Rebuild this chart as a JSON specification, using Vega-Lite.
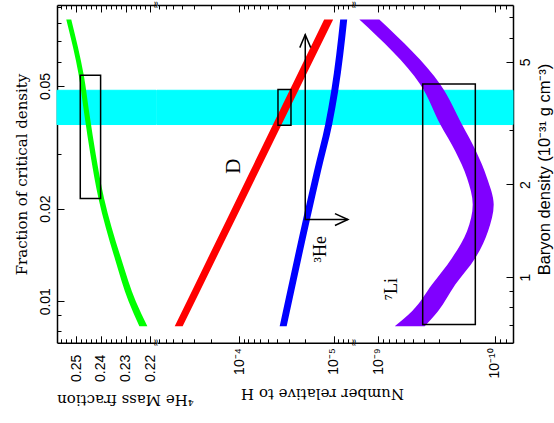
{
  "$schema": "https://vega.github.io/schema/vega-lite/v6.json",
  "background": "white",
  "padding": {"left": 14, "top": 0, "right": 0, "bottom": 0},
  "spacing": 0,
  "bounds": "flush",
  "datasets": {
    "band": [{"omega_hi": 0.04842, "omega_lo": 0.03748, "rho_hi": 4.045, "rho_lo": 3.131}],
    "edges": [{"omega": 0.0916}, {"omega": 0.00733}],
    "he": [
      {"omega": 0.08215, "Y_lo": 0.25203, "Y_hi": 0.25405},
      {"omega": 0.05418, "Y_lo": 0.24696, "Y_hi": 0.24899},
      {"omega": 0.04008, "Y_lo": 0.24457, "Y_hi": 0.24668},
      {"omega": 0.02995, "Y_lo": 0.24210, "Y_hi": 0.24428},
      {"omega": 0.02156, "Y_lo": 0.23873, "Y_hi": 0.24100},
      {"omega": 0.01349, "Y_lo": 0.23148, "Y_hi": 0.23407},
      {"omega": 0.01, "Y_lo": 0.22592, "Y_hi": 0.22884},
      {"omega": 0.008295, "Y_lo": 0.22122, "Y_hi": 0.22446}
    ],
    "he_box": [{"Y_lo": 0.24015, "Y_hi": 0.24838, "omega_lo": 0.02156, "omega_hi": 0.05418}],
    "d": [
      {"omega": 0.08215, "lo": 1.012e-5, "hi": 1.261e-5},
      {"omega": 0.02643, "lo": 6.23e-5, "hi": 7.65e-5},
      {"omega": 0.008295, "lo": 3.98e-4, "hi": 4.83e-4}
    ],
    "he3": [
      {"omega": 0.08215, "lo": 7.19e-6, "hi": 8.53e-6},
      {"omega": 0.04805, "lo": 8.96e-6, "hi": 1.063e-5},
      {"omega": 0.03748, "lo": 1.037e-5, "hi": 1.230e-5},
      {"omega": 0.02643, "lo": 1.363e-5, "hi": 1.617e-5},
      {"omega": 0.01842, "lo": 1.782e-5, "hi": 2.114e-5},
      {"omega": 0.008295, "lo": 3.147e-5, "hi": 3.733e-5}
    ],
    "d_box": [{"lo": 2.833e-5, "hi": 3.89e-5, "omega_lo": 0.03727, "omega_hi": 0.04867}],
    "arrow": [
      {"k": 0, "v": 2e-5, "omega": 0.07342},
      {"k": 1, "v": 2e-5, "omega": 0.01842},
      {"k": 2, "v": 7.06e-6, "omega": 0.01842}
    ],
    "heads": [
      {"dir": "up", "v": 2e-5, "omega": 0.07342},
      {"dir": "right", "v": 7.06e-6, "omega": 0.01842}
    ],
    "labels_mid": [
      {"text": "D", "v": 1.146e-4, "omega": 0.02744, "size": "big"},
      {"text": "³He", "v": 1.363e-5, "omega": 0.01475, "size": "small"}
    ],
    "li": [
      {"rho": 6.866, "lo": 9.75e-10, "hi": 1.446e-9},
      {"rho": 4.224, "lo": 2.925e-10, "hi": 4.34e-10},
      {"rho": 3.132, "lo": 1.906e-10, "hi": 2.925e-10},
      {"rho": 2.566, "lo": 1.446e-10, "hi": 2.176e-10},
      {"rho": 2.101, "lo": 1.164e-10, "hi": 1.727e-10},
      {"rho": 1.722, "lo": 1.020e-10, "hi": 1.543e-10},
      {"rho": 1.411, "lo": 1.141e-10, "hi": 1.727e-10},
      {"rho": 1.155, "lo": 1.466e-10, "hi": 2.322e-10},
      {"rho": 0.9469, "lo": 2.176e-10, "hi": 3.446e-10},
      {"rho": 0.7757, "lo": 3.061e-10, "hi": 5.113e-10},
      {"rho": 0.6934, "lo": 3.98e-10, "hi": 7.19e-10}
    ],
    "li_box": [{"lo": 1.466e-10, "hi": 4.14e-10, "rho_lo": 0.7024, "rho_hi": 4.243}],
    "labels_li": [{"text": "⁷Li", "v": 7.59e-10, "rho": 0.9143}]
  },
  "hconcat": [
    {
      "width": 99.3,
      "height": 337.8,
      "resolve": {"axis": {"x": "independent", "y": "independent"}},
      "layer": [
        {
          "data": {"name": "band"},
          "mark": {"type": "rect", "color": "#00ffff", "stroke": "#00ffff", "strokeWidth": 1},
          "encoding": {
            "y": {"field": "omega_hi", "type": "quantitative", "scale": {"type": "log", "domain": [0.00733, 0.0916], "nice": false}, "axis": null},
            "y2": {"field": "omega_lo"}
          }
        },
        {
          "data": {"name": "he"},
          "mark": {"type": "area", "orient": "horizontal", "interpolate": "monotone", "color": "#00ff00"},
          "encoding": {
            "y": {"field": "omega", "type": "quantitative", "scale": {"type": "log", "domain": [0.00733, 0.0916], "nice": false}, "axis": null},
            "x": {"field": "Y_lo", "type": "quantitative", "scale": {"type": "linear", "domain": [0.2176, 0.2578], "reverse": true, "zero": false, "nice": false}, "axis": null},
            "x2": {"field": "Y_hi"}
          }
        },
        {
          "data": {"name": "he_box"},
          "mark": {"type": "rect", "filled": false, "color": "black", "strokeWidth": 1.5},
          "encoding": {
            "x": {"field": "Y_lo", "type": "quantitative", "scale": {"type": "linear", "domain": [0.2176, 0.2578], "reverse": true, "zero": false, "nice": false}, "axis": null},
            "x2": {"field": "Y_hi"},
            "y": {"field": "omega_lo", "type": "quantitative", "scale": {"type": "log", "domain": [0.00733, 0.0916], "nice": false}, "axis": null},
            "y2": {"field": "omega_hi"}
          }
        },
        {
          "data": {"name": "edges"},
          "mark": {"type": "text", "text": "≈", "angle": 90, "fontSize": 10, "font": "DejaVu Sans", "color": "black"},
          "encoding": {
            "x": {"datum": 0.2176, "type": "quantitative", "scale": {"type": "linear", "domain": [0.2176, 0.2578], "reverse": true, "zero": false, "nice": false}, "axis": null},
            "y": {"field": "omega", "type": "quantitative", "scale": {"type": "log", "domain": [0.00733, 0.0916], "nice": false}, "axis": null}
          }
        },
        {
          "data": {"name": "he"},
          "mark": {"type": "point", "opacity": 0},
          "encoding": {
            "x": {"field": "Y_lo", "type": "quantitative", "scale": {"type": "linear", "domain": [0.2176, 0.2578], "reverse": true, "zero": false, "nice": false},
              "axis": {"orient": "bottom", "values": [0.22, 0.23, 0.24, 0.25], "format": ".2f", "tickSize": -7, "labelAngle": 270, "labelAlign": "right", "labelBaseline": "middle", "labelPadding": 18.5,
                "title": "⁴He Mass fraction", "titleAngle": 180, "titleX": 68, "titleY": 57, "titleAlign": "center", "titleBaseline": "middle", "titleLimit": 400}},
            "y": {"field": "omega", "type": "quantitative", "scale": {"type": "log", "domain": [0.00733, 0.0916], "nice": false},
              "axis": {"orient": "left", "values": [0.01, 0.02, 0.05], "format": ".2f", "tickSize": -7, "labelAngle": 270, "labelAlign": "center", "labelBaseline": "bottom", "labelPadding": 12,
                "title": "Fraction of critical density", "titleAngle": 270, "titleX": -36, "titleY": 169, "titleAlign": "center", "titleBaseline": "middle", "titleLimit": 400}}
          }
        },
        {
          "data": {"name": "he"},
          "mark": {"type": "point", "opacity": 0},
          "encoding": {
            "x": {"field": "Y_lo", "type": "quantitative", "scale": {"type": "linear", "domain": [0.2176, 0.2578], "reverse": true, "zero": false, "nice": false},
              "axis": {"orient": "bottom", "values": [0.222, 0.224, 0.226, 0.228, 0.232, 0.234, 0.236, 0.238, 0.242, 0.244, 0.246, 0.248, 0.252, 0.254, 0.256], "tickSize": -4, "labels": false, "domain": false, "title": null}},
            "y": {"field": "omega", "type": "quantitative", "scale": {"type": "log", "domain": [0.00733, 0.0916], "nice": false},
              "axis": {"orient": "left", "values": [0.008, 0.009, 0.03, 0.04, 0.06, 0.07, 0.08, 0.09], "tickSize": -4, "labels": false, "domain": false, "title": null}}
          }
        },
        {
          "data": {"name": "he"},
          "mark": {"type": "point", "opacity": 0},
          "encoding": {
            "x": {"field": "Y_lo", "type": "quantitative", "scale": {"type": "linear", "domain": [0.2176, 0.2578], "reverse": true, "zero": false, "nice": false},
              "axis": {"orient": "top", "values": [0.22, 0.23, 0.24, 0.25], "tickSize": -7, "labels": false, "title": null}},
            "y": {"field": "omega", "type": "quantitative", "scale": {"type": "log", "domain": [0.00733, 0.0916], "nice": false}, "axis": null}
          }
        },
        {
          "data": {"name": "he"},
          "mark": {"type": "point", "opacity": 0},
          "encoding": {
            "x": {"field": "Y_lo", "type": "quantitative", "scale": {"type": "linear", "domain": [0.2176, 0.2578], "reverse": true, "zero": false, "nice": false},
              "axis": {"orient": "top", "values": [0.222, 0.224, 0.226, 0.228, 0.232, 0.234, 0.236, 0.238, 0.242, 0.244, 0.246, 0.248, 0.252, 0.254, 0.256], "tickSize": -4, "labels": false, "domain": false, "title": null}},
            "y": {"field": "omega", "type": "quantitative", "scale": {"type": "log", "domain": [0.00733, 0.0916], "nice": false}, "axis": null}
          }
        }
      ]
    },
    {
      "width": 197,
      "height": 337.8,
      "resolve": {"axis": {"x": "independent", "y": "independent"}},
      "layer": [
        {
          "data": {"name": "band"},
          "mark": {"type": "rect", "color": "#00ffff", "stroke": "#00ffff", "strokeWidth": 1},
          "encoding": {
            "y": {"field": "omega_hi", "type": "quantitative", "scale": {"type": "log", "domain": [0.00733, 0.0916], "nice": false}, "axis": null},
            "y2": {"field": "omega_lo"}
          }
        },
        {
          "data": {"name": "d"},
          "mark": {"type": "area", "orient": "horizontal", "interpolate": "monotone", "color": "#ff0000"},
          "encoding": {
            "y": {"field": "omega", "type": "quantitative", "scale": {"type": "log", "domain": [0.00733, 0.0916], "nice": false}, "axis": null},
            "x": {"field": "lo", "type": "quantitative", "scale": {"type": "log", "domain": [6.09e-6, 7.44e-4], "reverse": true, "nice": false}, "axis": null},
            "x2": {"field": "hi"}
          }
        },
        {
          "data": {"name": "he3"},
          "mark": {"type": "area", "orient": "horizontal", "interpolate": "monotone", "color": "#0000ff"},
          "encoding": {
            "y": {"field": "omega", "type": "quantitative", "scale": {"type": "log", "domain": [0.00733, 0.0916], "nice": false}, "axis": null},
            "x": {"field": "lo", "type": "quantitative", "scale": {"type": "log", "domain": [6.09e-6, 7.44e-4], "reverse": true, "nice": false}, "axis": null},
            "x2": {"field": "hi"}
          }
        },
        {
          "data": {"name": "d_box"},
          "mark": {"type": "rect", "filled": false, "color": "black", "strokeWidth": 1.5},
          "encoding": {
            "x": {"field": "lo", "type": "quantitative", "scale": {"type": "log", "domain": [6.09e-6, 7.44e-4], "reverse": true, "nice": false}, "axis": null},
            "x2": {"field": "hi"},
            "y": {"field": "omega_lo", "type": "quantitative", "scale": {"type": "log", "domain": [0.00733, 0.0916], "nice": false}, "axis": null},
            "y2": {"field": "omega_hi"}
          }
        },
        {
          "data": {"name": "arrow"},
          "mark": {"type": "line", "color": "black", "strokeWidth": 1.5},
          "encoding": {
            "x": {"field": "v", "type": "quantitative", "scale": {"type": "log", "domain": [6.09e-6, 7.44e-4], "reverse": true, "nice": false}, "axis": null},
            "y": {"field": "omega", "type": "quantitative", "scale": {"type": "log", "domain": [0.00733, 0.0916], "nice": false}, "axis": null},
            "order": {"field": "k", "type": "quantitative"}
          }
        },
        {
          "data": {"name": "heads"},
          "mark": {"type": "point", "filled": false, "color": "black", "strokeWidth": 1.5, "size": 676, "opacity": 1},
          "encoding": {
            "x": {"field": "v", "type": "quantitative", "scale": {"type": "log", "domain": [6.09e-6, 7.44e-4], "reverse": true, "nice": false}, "axis": null},
            "y": {"field": "omega", "type": "quantitative", "scale": {"type": "log", "domain": [0.00733, 0.0916], "nice": false}, "axis": null},
            "shape": {"field": "dir", "type": "nominal", "scale": {"domain": ["up", "right"], "range": ["M -0.42 1 L 0 0 L 0.42 1", "M -1 -0.46 L 0 0 L -1 0.46"]}, "legend": null}
          }
        },
        {
          "data": {"name": "labels_mid"},
          "mark": {"type": "text", "angle": 270, "font": "Liberation Serif", "color": "black", "align": "center", "baseline": "middle"},
          "encoding": {
            "x": {"field": "v", "type": "quantitative", "scale": {"type": "log", "domain": [6.09e-6, 7.44e-4], "reverse": true, "nice": false}, "axis": null},
            "y": {"field": "omega", "type": "quantitative", "scale": {"type": "log", "domain": [0.00733, 0.0916], "nice": false}, "axis": null},
            "text": {"field": "text"},
            "size": {"field": "size", "type": "nominal", "scale": {"domain": ["big", "small"], "range": [21, 18]}, "legend": null}
          }
        },
        {
          "data": {"name": "edges"},
          "mark": {"type": "text", "text": "≈", "angle": 90, "fontSize": 10, "font": "DejaVu Sans", "color": "black"},
          "encoding": {
            "x": {"datum": 6.09e-6, "type": "quantitative", "scale": {"type": "log", "domain": [6.09e-6, 7.44e-4], "reverse": true, "nice": false}, "axis": null},
            "y": {"field": "omega", "type": "quantitative", "scale": {"type": "log", "domain": [0.00733, 0.0916], "nice": false}, "axis": null}
          }
        },
        {
          "data": {"name": "d"},
          "mark": {"type": "point", "opacity": 0},
          "encoding": {
            "x": {"field": "lo", "type": "quantitative", "scale": {"type": "log", "domain": [6.09e-6, 7.44e-4], "reverse": true, "nice": false},
              "axis": {"orient": "bottom", "values": [1e-4, 1e-5], "labelExpr": "datum.value > 3e-5 ? '10⁻⁴' : '10⁻⁵'", "tickSize": -7, "labelAngle": 270, "labelAlign": "right", "labelBaseline": "middle", "labelPadding": 12,
                "title": "Number relative to H", "titleAngle": 180, "titleX": 165, "titleY": 51, "titleAlign": "center", "titleBaseline": "middle", "titleLimit": 400}},
            "y": {"field": "omega", "type": "quantitative", "scale": {"type": "log", "domain": [0.00733, 0.0916], "nice": false}, "axis": null}
          }
        },
        {
          "data": {"name": "d"},
          "mark": {"type": "point", "opacity": 0},
          "encoding": {
            "x": {"field": "lo", "type": "quantitative", "scale": {"type": "log", "domain": [6.09e-6, 7.44e-4], "reverse": true, "nice": false},
              "axis": {"orient": "bottom", "values": [7e-4, 6e-4, 5e-4, 4e-4, 3e-4, 2e-4, 9e-5, 8e-5, 7e-5, 6e-5, 5e-5, 4e-5, 3e-5, 2e-5, 9e-6, 8e-6, 7e-6], "tickSize": -4, "labels": false, "domain": false, "title": null}},
            "y": {"field": "omega", "type": "quantitative", "scale": {"type": "log", "domain": [0.00733, 0.0916], "nice": false}, "axis": null}
          }
        },
        {
          "data": {"name": "d"},
          "mark": {"type": "point", "opacity": 0},
          "encoding": {
            "x": {"field": "lo", "type": "quantitative", "scale": {"type": "log", "domain": [6.09e-6, 7.44e-4], "reverse": true, "nice": false},
              "axis": {"orient": "top", "values": [1e-4, 1e-5], "tickSize": -7, "labels": false, "title": null}},
            "y": {"field": "omega", "type": "quantitative", "scale": {"type": "log", "domain": [0.00733, 0.0916], "nice": false}, "axis": null}
          }
        },
        {
          "data": {"name": "d"},
          "mark": {"type": "point", "opacity": 0},
          "encoding": {
            "x": {"field": "lo", "type": "quantitative", "scale": {"type": "log", "domain": [6.09e-6, 7.44e-4], "reverse": true, "nice": false},
              "axis": {"orient": "top", "values": [7e-4, 6e-4, 5e-4, 4e-4, 3e-4, 2e-4, 9e-5, 8e-5, 7e-5, 6e-5, 5e-5, 4e-5, 3e-5, 2e-5, 9e-6, 8e-6, 7e-6], "tickSize": -4, "labels": false, "domain": false, "title": null}},
            "y": {"field": "omega", "type": "quantitative", "scale": {"type": "log", "domain": [0.00733, 0.0916], "nice": false}, "axis": null}
          }
        }
      ]
    },
    {
      "width": 159,
      "height": 337.8,
      "resolve": {"axis": {"x": "independent", "y": "independent"}},
      "layer": [
        {
          "data": {"name": "band"},
          "mark": {"type": "rect", "color": "#00ffff", "stroke": "#00ffff", "strokeWidth": 1},
          "encoding": {
            "y": {"field": "rho_hi", "type": "quantitative", "scale": {"type": "log", "domain": [0.6124, 7.652], "nice": false}, "axis": null},
            "y2": {"field": "rho_lo"}
          }
        },
        {
          "data": {"name": "li"},
          "mark": {"type": "area", "orient": "horizontal", "interpolate": "monotone", "color": "#8000ff"},
          "encoding": {
            "y": {"field": "rho", "type": "quantitative", "scale": {"type": "log", "domain": [0.6124, 7.652], "nice": false}, "axis": null},
            "x": {"field": "lo", "type": "quantitative", "scale": {"type": "log", "domain": [6.97e-11, 1.606e-9], "reverse": true, "nice": false}, "axis": null},
            "x2": {"field": "hi"}
          }
        },
        {
          "data": {"name": "li_box"},
          "mark": {"type": "rect", "filled": false, "color": "black", "strokeWidth": 1.5},
          "encoding": {
            "x": {"field": "lo", "type": "quantitative", "scale": {"type": "log", "domain": [6.97e-11, 1.606e-9], "reverse": true, "nice": false}, "axis": null},
            "x2": {"field": "hi"},
            "y": {"field": "rho_lo", "type": "quantitative", "scale": {"type": "log", "domain": [0.6124, 7.652], "nice": false}, "axis": null},
            "y2": {"field": "rho_hi"}
          }
        },
        {
          "data": {"name": "labels_li"},
          "mark": {"type": "text", "angle": 270, "font": "Liberation Serif", "fontSize": 18, "color": "black", "align": "center", "baseline": "middle"},
          "encoding": {
            "x": {"field": "v", "type": "quantitative", "scale": {"type": "log", "domain": [6.97e-11, 1.606e-9], "reverse": true, "nice": false}, "axis": null},
            "y": {"field": "rho", "type": "quantitative", "scale": {"type": "log", "domain": [0.6124, 7.652], "nice": false}, "axis": null},
            "text": {"field": "text"}
          }
        },
        {
          "data": {"name": "li"},
          "mark": {"type": "point", "opacity": 0},
          "encoding": {
            "x": {"field": "lo", "type": "quantitative", "scale": {"type": "log", "domain": [6.97e-11, 1.606e-9], "reverse": true, "nice": false},
              "axis": {"orient": "bottom", "values": [1e-9, 1e-10], "labelExpr": "datum.value > 3e-10 ? '10⁻⁹' : '10⁻¹⁰'", "tickSize": -7, "labelAngle": 270, "labelAlign": "right", "labelBaseline": "middle", "labelPadding": 12, "title": null}},
            "y": {"field": "rho", "type": "quantitative", "scale": {"type": "log", "domain": [0.6124, 7.652], "nice": false},
              "axis": {"orient": "right", "values": [1, 2, 5], "format": "d", "tickSize": -7, "labelAngle": 270, "labelAlign": "center", "labelBaseline": "top", "labelPadding": 13,
                "title": "Baryon density (10⁻³¹ g cm⁻³)", "titleFont": "Liberation Sans", "titleFontSize": 16.5, "titleAngle": 270, "titleX": 32, "titleY": 164, "titleAlign": "center", "titleBaseline": "middle", "titleLimit": 400}}
          }
        },
        {
          "data": {"name": "li"},
          "mark": {"type": "point", "opacity": 0},
          "encoding": {
            "x": {"field": "lo", "type": "quantitative", "scale": {"type": "log", "domain": [6.97e-11, 1.606e-9], "reverse": true, "nice": false},
              "axis": {"orient": "bottom", "values": [9e-10, 8e-10, 7e-10, 6e-10, 5e-10, 4e-10, 3e-10, 2e-10, 9e-11, 8e-11], "tickSize": -4, "labels": false, "domain": false, "title": null}},
            "y": {"field": "rho", "type": "quantitative", "scale": {"type": "log", "domain": [0.6124, 7.652], "nice": false},
              "axis": {"orient": "right", "values": [0.7, 0.8, 0.9, 3, 4, 6, 7], "tickSize": -4, "labels": false, "domain": false, "title": null}}
          }
        },
        {
          "data": {"name": "li"},
          "mark": {"type": "point", "opacity": 0},
          "encoding": {
            "x": {"field": "lo", "type": "quantitative", "scale": {"type": "log", "domain": [6.97e-11, 1.606e-9], "reverse": true, "nice": false},
              "axis": {"orient": "top", "values": [1e-9, 1e-10], "tickSize": -7, "labels": false, "title": null}},
            "y": {"field": "rho", "type": "quantitative", "scale": {"type": "log", "domain": [0.6124, 7.652], "nice": false}, "axis": null}
          }
        },
        {
          "data": {"name": "li"},
          "mark": {"type": "point", "opacity": 0},
          "encoding": {
            "x": {"field": "lo", "type": "quantitative", "scale": {"type": "log", "domain": [6.97e-11, 1.606e-9], "reverse": true, "nice": false},
              "axis": {"orient": "top", "values": [9e-10, 8e-10, 7e-10, 6e-10, 5e-10, 4e-10, 3e-10, 2e-10, 9e-11, 8e-11], "tickSize": -4, "labels": false, "domain": false, "title": null}},
            "y": {"field": "rho", "type": "quantitative", "scale": {"type": "log", "domain": [0.6124, 7.652], "nice": false}, "axis": null}
          }
        }
      ]
    }
  ],
  "config": {
    "view": {"stroke": null},
    "axis": {
      "grid": false,
      "domainColor": "black",
      "domainWidth": 1.5,
      "tickColor": "black",
      "tickWidth": 1,
      "labelColor": "black",
      "labelFont": "Liberation Sans",
      "labelFontSize": 14,
      "labelFlush": false,
      "labelOverlap": false,
      "titleColor": "black",
      "titleFont": "DejaVu Serif",
      "titleFontSize": 15,
      "titleFontWeight": "normal"
    }
  }
}
